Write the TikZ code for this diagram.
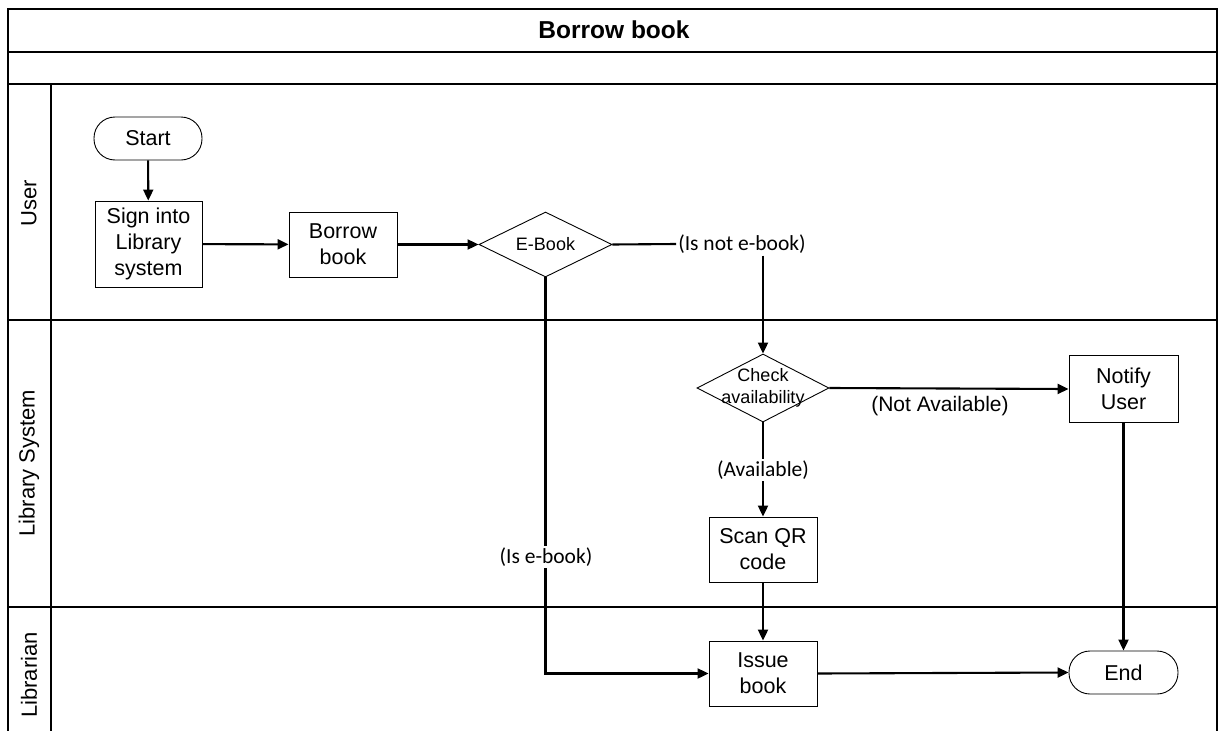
\documentclass[tikz,border=0pt]{standalone}
\usepackage{fontspec}
\setmainfont{Liberation Sans}
\newfontfamily\calfont{Carlito}
\usetikzlibrary{arrows.meta,shapes.geometric}
\begin{document}
\begin{tikzpicture}[x=1pt,y=-1pt,
  lane/.style={line width=1.2pt},
  boxtext/.style={font=\fontsize{21.5}{26}\selectfont, align=center},
  stepbox/.style={draw, line width=0.9pt, rectangle, inner sep=0pt, boxtext},
  term/.style={draw, line width=0.9pt, rectangle, rounded corners=21pt, inner sep=0pt, minimum width=108pt, minimum height=43pt, boxtext},
  dia/.style={draw, line width=0.9pt, diamond, inner sep=0pt},
  diatext/.style={font=\fontsize{18}{22.5}\selectfont, align=center, inner sep=0pt},
  flow/.style={line width=2.1pt, -{Triangle[length=11pt,width=10pt]}},
  plain/.style={line width=2.1pt},
  cond/.style={font=\calfont\fontsize{21.5}{25}\selectfont, inner sep=2pt},
  condw/.style={cond, fill=white},
  lanelbl/.style={font=\fontsize{22}{26}\selectfont, rotate=90, inner sep=0pt}
]
\useasboundingbox (0,0) rectangle (1219,731);
% frame
\draw[lane] (8,731) -- (8,9) -- (1217,9) -- (1217,731);
\draw[lane] (8,52) -- (1217,52);
\draw[lane] (8,84) -- (1217,84);
\draw[lane] (51,84) -- (51,731);
\draw[lane] (8,320) -- (1217,320);
\draw[lane] (8,607) -- (1217,607);
\node[font=\bfseries\fontsize{24.5}{28}\selectfont] (title) at (614,30) {Borrow book};
\node[lanelbl] (luser) at (29,203) {User};
\node[lanelbl] (llib) at (29,463) {Library System};
\node[lanelbl] (llibr) at (29,675) {Librarian};
% nodes
\node[term] (start) at (148,138.5) {Start};
\node[stepbox, minimum width=107pt, minimum height=86pt] (sign) at (148.5,244) {Sign into\\Library\\system};
\node[stepbox, minimum width=108pt, minimum height=65pt] (borrow) at (343,244.5) {Borrow\\book};
\node[dia, minimum width=133pt, minimum height=65pt] (ebook) at (545.5,244.5) {};
\node[diatext] (ebookt) at (ebook) {E-Book};
\node[cond] (notlbl) at (742,244) {(Is not e-book)};
\node[dia, minimum width=132pt, minimum height=68pt] (chk) at (763,388) {};
\node[diatext] (chkt) at (chk) {Check\\availability};
\node[stepbox, minimum width=109pt, minimum height=67pt] (notify) at (1123.5,389) {Notify\\User};
\node[stepbox, minimum width=108pt, minimum height=65pt] (scan) at (763,549.5) {Scan QR\\code};
\node[stepbox, minimum width=108pt, minimum height=65pt] (issue) at (763,673.5) {Issue\\book};
\node[term, minimum width=109pt] (end) at (1123.5,672.5) {End};
% connectors
\draw[flow] (start) -- (sign);
\draw[flow] (sign) -- (borrow);
\draw[flow] (borrow) -- (ebook);
\draw[plain] (ebook.east) -- (notlbl.west);
\draw[flow] (notlbl.south -| chk.north) -- (chk.north);
\draw[flow] (ebook.south) |- (issue.west);
\node[condw] (islbl) at (546,557) {(Is e-book)};
\draw[flow] (chk.east) -- (notify.west);
\node[font=\fontsize{21}{25}\selectfont, inner sep=0pt] (nalbl) at (940,406) {(Not Available)};
\draw[flow] (chk.south) -- (scan.north);
\node[condw] (avlbl) at (763,470) {(Available)};
\draw[flow] (scan.south) -- (issue.north);
\draw[flow] (issue.east) -- (end.west);
\draw[flow] (notify.south) -- (end.north);
\end{tikzpicture}
\end{document}
